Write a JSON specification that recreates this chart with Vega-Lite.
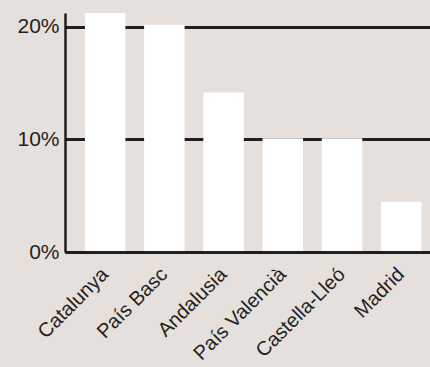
{
  "$schema": "https://vega.github.io/schema/vega-lite/v6.json",
  "autosize": "none",
  "width": 365,
  "height": 239,
  "padding": {"left": 65, "top": 13, "right": 0, "bottom": 115},
  "background": "#e6e0dc",
  "config": {
    "view": {"stroke": null},
    "font": "Liberation Sans"
  },
  "data": {
    "values": [
      {"region": "Catalunya", "share": 0.212},
      {"region": "País Basc", "share": 0.2015},
      {"region": "Andalusia", "share": 0.1415},
      {"region": "País Valencià", "share": 0.101},
      {"region": "Castella-Lleó", "share": 0.101},
      {"region": "Madrid", "share": 0.0445}
    ]
  },
  "mark": {"type": "bar", "color": "#ffffff"},
  "encoding": {
    "x": {
      "field": "region",
      "type": "nominal",
      "sort": null,
      "scale": {"paddingInner": 0.316, "paddingOuter": 0.24, "align": 0.7},
      "axis": {
        "title": null,
        "ticks": false,
        "domain": true,
        "domainColor": "#231f20",
        "domainWidth": 3,
        "zindex": 1,
        "labelAngle": -45,
        "labelAlign": "right",
        "labelBaseline": "middle",
        "labelPadding": 19,
        "labelDx": -3,
        "labelFontSize": 20,
        "labelColor": "#231f20",
        "labelFont": "Liberation Sans"
      }
    },
    "y": {
      "field": "share",
      "type": "quantitative",
      "scale": {"domain": [0, 0.212], "nice": false},
      "axis": {
        "title": null,
        "values": [0, 0.1, 0.2],
        "format": ".0%",
        "ticks": false,
        "domain": true,
        "domainColor": "#231f20",
        "domainWidth": 2.5,
        "grid": true,
        "gridColor": "#231f20",
        "gridWidth": 3,
        "gridOpacity": 1,
        "labelFontSize": 21,
        "labelColor": "#231f20",
        "labelPadding": 6,
        "labelFont": "Liberation Sans"
      }
    }
  }
}
